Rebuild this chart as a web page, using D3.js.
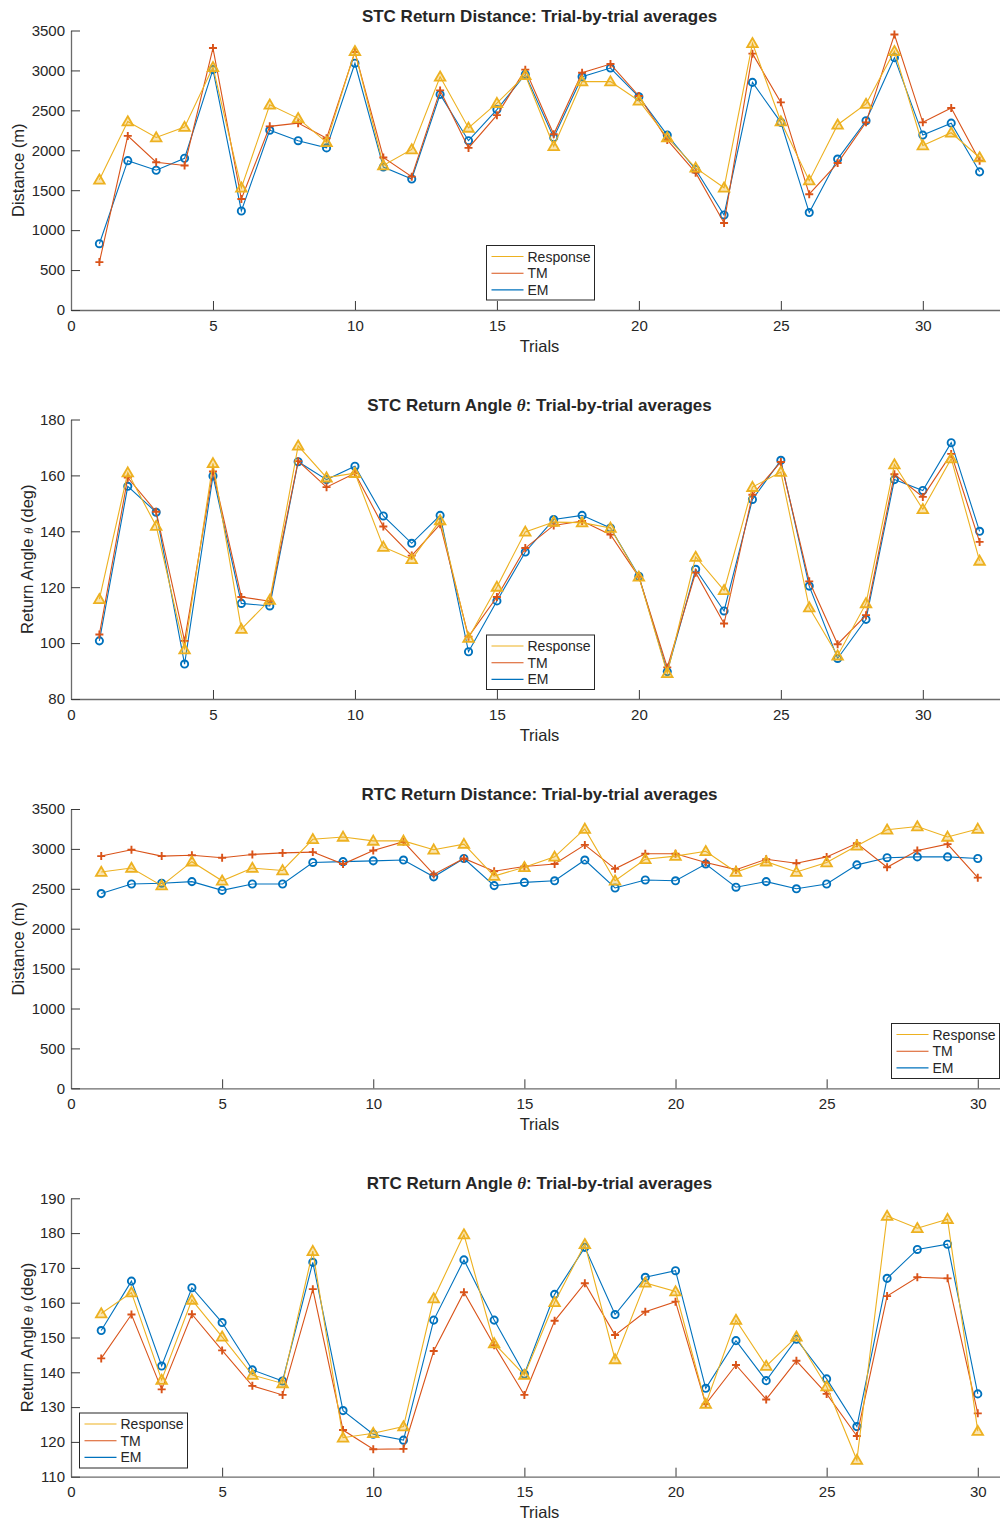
<!DOCTYPE html>
<html>
<head>
<meta charset="utf-8">
<script src="https://cdnjs.cloudflare.com/ajax/libs/d3/7.8.5/d3.min.js"></script>
<style>
  html, body { margin: 0; padding: 0; background: #fff; }
  svg { display: block; }
  text { font-family: "Liberation Sans", Arial, Helvetica, sans-serif; fill: #262626; }
</style>
</head>
<body>
<svg id="chart" width="1000" height="1521"></svg>
<script>
// ---- Series: STC return distance (m), 32 trials ----
const stcDistResponse = [1630, 2360, 2160, 2290, 3040, 1530, 2570, 2400, 2100, 3240, 1810, 2010, 2920, 2280, 2590, 2940,
                         2050, 2860, 2860, 2620, 2160, 1780, 1530, 3340, 2360, 1620, 2320, 2580, 3240, 2060, 2220, 1910];
const stcDistTM       = [600, 2180, 1850, 1810, 3280, 1390, 2300, 2340, 2150, 3230, 1910, 1670, 2750, 2030, 2440, 3010,
                         2200, 2970, 3080, 2680, 2130, 1720, 1090, 3210, 2600, 1450, 1840, 2350, 3450, 2350, 2530, 1870];
const stcDistEM       = [830, 1870, 1750, 1900, 3010, 1240, 2250, 2120, 2030, 3090, 1790, 1640, 2700, 2120, 2510, 2950,
                         2160, 2920, 3030, 2670, 2190, 1760, 1190, 2850, 2350, 1220, 1890, 2370, 3160, 2190, 2340, 1730];

// ---- Series: STC return angle (deg), 32 trials ----
const stcAngResponse = [115.7, 161.0, 141.9, 97.7, 164.3, 105.0, 115.4, 170.6, 159.2, 160.8, 134.4, 130.0, 143.9, 101.8, 120.1, 139.8,
                        143.3, 143.1, 141.2, 123.7, 89.2, 130.8, 118.9, 155.8, 161.2, 112.7, 95.5, 114.2, 163.9, 147.9, 166.0, 129.4];
const stcAngTM       = [103.1, 159.2, 147.0, 100.8, 161.4, 116.5, 115.0, 165.1, 155.8, 160.8, 141.7, 131.3, 142.5, 102.3, 116.5, 134.0,
                        142.1, 143.7, 138.8, 123.7, 91.3, 125.2, 107.0, 153.1, 164.8, 122.1, 99.6, 110.0, 160.4, 152.3, 167.7, 136.2];
const stcAngEM       = [100.8, 156.1, 146.8, 92.5, 159.8, 114.2, 113.3, 164.9, 158.5, 163.3, 145.5, 135.7, 145.7, 96.9, 115.1, 132.6,
                        144.2, 145.7, 141.2, 123.9, 89.8, 126.4, 111.5, 151.4, 165.4, 120.4, 94.5, 108.5, 158.5, 154.6, 171.7, 140.0];

// ---- Series: RTC return distance (m), 30 trials ----
const rtcDistResponse = [2710, 2760, 2540, 2840, 2600, 2760, 2730, 3120, 3150, 3100, 3100, 2990, 3060, 2660, 2770,
                         2900, 3250, 2600, 2870, 2910, 2970, 2710, 2840, 2710, 2830, 3040, 3240, 3280, 3150, 3250];
const rtcDistTM       = [2910, 2990, 2910, 2920, 2890, 2930, 2950, 2960, 2810, 2980, 3090, 2680, 2880, 2720, 2780,
                         2810, 3050, 2750, 2940, 2940, 2830, 2740, 2870, 2820, 2900, 3070, 2770, 2980, 3060, 2640];
const rtcDistEM       = [2440, 2560, 2570, 2590, 2480, 2560, 2560, 2830, 2840, 2850, 2860, 2650, 2880, 2540, 2580,
                         2600, 2860, 2510, 2610, 2600, 2810, 2520, 2590, 2500, 2560, 2800, 2890, 2900, 2900, 2880];

// ---- Series: RTC return angle (deg), 30 trials ----
const rtcAngResponse = [156.9, 162.9, 137.8, 160.8, 150.2, 139.2, 136.8, 174.8, 121.2, 122.5, 124.4, 161.2, 179.6, 148.3, 139.2,
                        160.1, 176.8, 143.7, 165.7, 163.2, 130.9, 155.0, 141.8, 150.2, 135.9, 114.8, 184.9, 181.4, 184.0, 123.1];
const rtcAngTM       = [144.0, 156.6, 135.1, 156.7, 146.3, 136.1, 133.5, 163.9, 123.4, 117.9, 118.0, 146.1, 163.0, 147.8, 133.5,
                        154.8, 165.6, 150.7, 157.4, 160.3, 130.9, 142.1, 132.2, 143.3, 133.8, 121.7, 161.9, 167.3, 167.0, 128.2];
const rtcAngEM       = [152.0, 166.2, 141.8, 164.3, 154.3, 140.7, 137.5, 171.6, 129.0, 122.2, 120.5, 155.0, 172.3, 155.0, 139.5,
                        162.4, 175.9, 156.6, 167.3, 169.2, 135.4, 149.1, 137.6, 149.5, 138.1, 124.4, 167.0, 175.3, 176.8, 133.8];

// ---- Labels and ticks ----
const seriesNames = ["Response", "TM", "EM"];
const xTicks = [0, 5, 10, 15, 20, 25, 30];
const distTicks = [0, 500, 1000, 1500, 2000, 2500, 3000, 3500];
const stcAngTicks = [80, 100, 120, 140, 160, 180];
const rtcAngTicks = [110, 120, 130, 140, 150, 160, 170, 180, 190];

const colors = { Response: "#EDB120", TM: "#D95319", EM: "#0072BD" };
const axisColor = "#262626";

const svg = d3.select("#chart");

// Panel layout: plot box, axis limits and legend placement
const panels = [
  { title: ["STC Return Distance: Trial-by-trial averages"], ylabel: "dist",
    top: 30.5, bottom: 310, xMax: 33, yDomain: [0, 3500], yTicks: distTicks,
    series: { Response: stcDistResponse, TM: stcDistTM, EM: stcDistEM },
    legend: { x: 486.5, y: 245.5, w: 108, h: 54.5 } },
  { title: ["STC Return Angle ", "θ", ": Trial-by-trial averages"], ylabel: "angle",
    top: 419.5, bottom: 699, xMax: 33, yDomain: [80, 180], yTicks: stcAngTicks,
    series: { Response: stcAngResponse, TM: stcAngTM, EM: stcAngEM },
    legend: { x: 486.5, y: 635, w: 108, h: 54.5 } },
  { title: ["RTC Return Distance: Trial-by-trial averages"], ylabel: "dist",
    top: 809, bottom: 1088.3, xMax: 31, yDomain: [0, 3500], yTicks: distTicks,
    series: { Response: rtcDistResponse, TM: rtcDistTM, EM: rtcDistEM },
    legend: { x: 891.5, y: 1023.5, w: 108, h: 55 } },
  { title: ["RTC Return Angle ", "θ", ": Trial-by-trial averages"], ylabel: "angle",
    top: 1198.3, bottom: 1476.7, xMax: 31, yDomain: [110, 190], yTicks: rtcAngTicks,
    series: { Response: rtcAngResponse, TM: rtcAngTM, EM: rtcAngEM },
    legend: { x: 79.5, y: 1413, w: 108, h: 55 } }
];

const left = 71, right = 1008;

// Marker shapes
const triSym = d3.symbol().type(d3.symbolTriangle).size(48);

function drawMarkers(g, name, pts) {
  const c = colors[name];
  if (name === "Response") {
    g.selectAll(null).data(pts).join("path")
      .attr("transform", d => `translate(${d[0]},${d[1] + 0.8})`)
      .attr("d", triSym())
      .attr("fill", c).attr("fill-opacity", 0.35)
      .attr("stroke", c).attr("stroke-width", 1.8).attr("stroke-linejoin", "miter");
  } else if (name === "TM") {
    g.selectAll(null).data(pts).join("path")
      .attr("d", d => `M${d[0] - 4},${d[1]}H${d[0] + 4}M${d[0]},${d[1] - 4}V${d[1] + 4}`)
      .attr("fill", "none").attr("stroke", c).attr("stroke-width", 1.9);
  } else {
    g.selectAll(null).data(pts).join("circle")
      .attr("cx", d => d[0]).attr("cy", d => d[1]).attr("r", 3.6)
      .attr("fill", "none").attr("stroke", c).attr("stroke-width", 1.9);
  }
}

panels.forEach(p => {
  const x = d3.scaleLinear().domain([0, p.xMax]).range([left, right]);
  const y = d3.scaleLinear().domain(p.yDomain).range([p.bottom, p.top]);
  const g = svg.append("g");

  // Axes (box off, inward ticks)
  const fmt = d3.format("d");
  const xAxis = d3.axisBottom(x).tickValues(xTicks).tickFormat(fmt).tickSize(-9).tickPadding(10).tickSizeOuter(0);
  const yAxis = d3.axisLeft(y).tickValues(p.yTicks).tickFormat(fmt).tickSize(-9).tickPadding(6).tickSizeOuter(0);

  const gx = g.append("g").attr("transform", `translate(0,${p.bottom})`).call(xAxis);
  const gy = g.append("g").attr("transform", `translate(${left},0)`).call(yAxis);
  [gx, gy].forEach(a => {
    a.select(".domain").attr("stroke", "#6b6b6b").attr("stroke-width", 1.3);
    a.selectAll(".tick line").attr("stroke", "#3a3a3a").attr("stroke-width", 1);
    a.selectAll(".tick text").attr("fill", axisColor).style("font-size", "15px")
      .style("font-family", '"Liberation Sans", Arial, sans-serif');
  });
  gx.selectAll(".tick text").attr("dy", "0.71em");

  // Series: lines then markers, Response drawn last (on top)
  ["EM", "TM", "Response"].forEach(name => {
    const vals = p.series[name];
    const pts = vals.map((v, i) => [x(i + 1), y(v)]);
    g.append("path").datum(pts)
      .attr("d", d3.line())
      .attr("fill", "none").attr("stroke", colors[name]).attr("stroke-width", 1.1);
    drawMarkers(g.append("g"), name, pts);
  });

  // Title
  const t = g.append("text").attr("x", (left + right) / 2).attr("y", p.top - 9)
    .attr("text-anchor", "middle").style("font-size", "17px").style("font-weight", "bold").attr("fill", "#000");
  p.title.forEach(s => {
    const ts = t.append("tspan").text(s);
    if (s === "θ") ts.style("font-family", '"Liberation Serif", "DejaVu Serif", serif').style("font-style", "italic");
  });

  // X label
  g.append("text").attr("x", (left + right) / 2).attr("y", p.bottom + 41.5)
    .attr("text-anchor", "middle").style("font-size", "16.5px").text("Trials");

  // Y label
  const cy = (p.top + p.bottom) / 2;
  if (p.ylabel === "dist") {
    g.append("text").attr("transform", `translate(23.5,${cy}) rotate(-90)`)
      .attr("text-anchor", "middle").style("font-size", "16.5px").text("Distance (m)");
  } else {
    const yl = g.append("text").attr("transform", `translate(32.5,${cy}) rotate(-90)`)
      .attr("text-anchor", "middle").style("font-size", "16.5px");
    yl.append("tspan").text("Return Angle ");
    yl.append("tspan").text("θ").style("font-family", '"Liberation Serif", "DejaVu Serif", serif')
      .style("font-style", "italic").style("font-size", "13px");
    yl.append("tspan").text(" (deg)");
  }

  // Legend
  const L = p.legend;
  const lg = g.append("g").attr("transform", `translate(${L.x},${L.y})`);
  lg.append("rect").attr("width", L.w).attr("height", L.h)
    .attr("fill", "#fff").attr("stroke", "#262626").attr("stroke-width", 1);
  seriesNames.forEach((name, i) => {
    const ry = 11 + i * 16.7;
    lg.append("line").attr("x1", 5).attr("x2", 37).attr("y1", ry).attr("y2", ry)
      .attr("stroke", colors[name]).attr("stroke-width", 1.1);
    lg.append("text").attr("x", 41).attr("y", ry).attr("dy", "0.36em")
      .style("font-size", "14px").attr("fill", "#000").text(name);
  });
});
</script>
</body>
</html>
